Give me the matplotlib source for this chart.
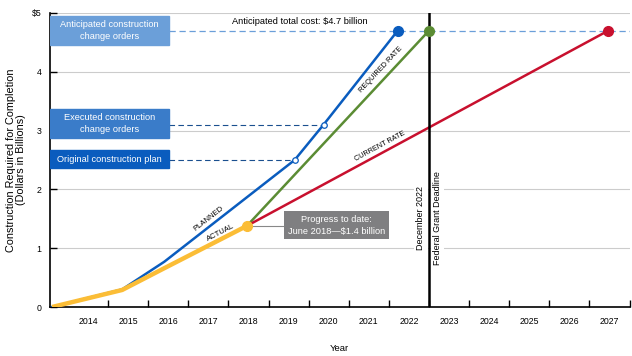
import numpy as np
import matplotlib.pyplot as plt
from matplotlib.patches import Rectangle

plt.rcParams['font.family'] = ['Liberation Sans', 'DejaVu Sans']

# data
planned_x = [2013.6, 2015.35, 2016.4, 2019.65, 2020.37, 2022.22]
planned_y = [0.0, 0.30, 0.77, 2.5, 3.1, 4.7]
actual_x = [2013.6, 2015.35, 2016.4, 2018.46]
actual_y = [0.0, 0.29, 0.66, 1.38]
required_x = [2018.46, 2023.0]
required_y = [1.38, 4.7]
current_x = [2018.46, 2027.47]
current_y = [1.38, 4.7]
years = list(range(2014, 2028))
total_cost = 4.7
executed = 3.1
original = 2.5
deadline = 2023.0

blue = '#0a5cbe'
lightblue = '#6b9fd9'
midblue = '#3a7cc9'
yellow = '#fbbd36'
green = '#5b8c34'
red = '#c8102e'


def seg_angle(xs, ys, i):
    # angle of segment i in data units, rotated to screen by matplotlib
    return np.degrees(np.arctan2(ys[i + 1] - ys[i], xs[i + 1] - xs[i]))


fig = plt.figure(figsize=(6.32, 3.56), dpi=100)
ax = fig.add_axes([0.0791, 0.1376, 0.9170, 0.8259])
ax.set_xlim(2013.55, 2028.0)
ax.set_ylim(0, 5)

for v in [1, 2, 3, 4, 5]:
    ax.axhline(v, color='#cccccc', lw=0.8, zorder=0)

ax.plot(planned_x, planned_y, color=blue, lw=1.8, zorder=4)
ax.plot(actual_x, actual_y, color=yellow, lw=3.2, zorder=5, solid_capstyle='butt')
ax.plot(required_x, required_y, color=green, lw=1.8, zorder=4)
ax.plot(current_x, current_y, color=red, lw=1.8, zorder=4)

ax.plot(planned_x[-1], planned_y[-1], 'o', color=blue, ms=7, zorder=6)
ax.plot(required_x[-1], required_y[-1], 'o', color=green, ms=7, zorder=6)
ax.plot(current_x[-1], current_y[-1], 'o', color=red, ms=7, zorder=6)
ax.plot(actual_x[-1], actual_y[-1], 'o', color=yellow, ms=7, zorder=6)
ax.plot([planned_x[3], planned_x[4]], [planned_y[3], planned_y[4]], 'o', mfc='white',
        mec=blue, ms=4, mew=0.9, zorder=6)

# label boxes at left
fs = 6.7
box_l, box_r = 2013.55, 2016.52
ax.add_patch(Rectangle((box_l, 4.456), box_r - box_l, 0.494, color=lightblue, zorder=3))
ax.text((box_l + box_r) / 2, 4.70, 'Anticipated construction\nchange orders', color='white',
        ha='center', va='center', fontsize=fs, zorder=7, linespacing=1.35)
ax.add_patch(Rectangle((box_l, 2.87), box_r - box_l, 0.50, color=midblue, zorder=3))
ax.text((box_l + box_r) / 2, 3.12, 'Executed construction\nchange orders', color='white',
        ha='center', va='center', fontsize=fs, zorder=7, linespacing=1.35)
ax.add_patch(Rectangle((box_l, 2.36), box_r - box_l, 0.31, color=blue, zorder=3))
ax.text((box_l + box_r) / 2, 2.515, 'Original construction plan', color='white',
        ha='center', va='center', fontsize=fs, zorder=7)

ax.plot([box_r, 2028.0], [total_cost, total_cost], color=lightblue, lw=0.9, ls=(0, (5, 3)), zorder=2)
ax.plot([box_r, planned_x[4]], [executed, executed], color='#1a4f8f', lw=0.8, ls=(0, (5, 3)), zorder=2)
ax.plot([box_r, planned_x[3]], [original, original], color='#1a4f8f', lw=0.8, ls=(0, (5, 3)), zorder=2)

ax.text(2019.77, 4.85, 'Anticipated total cost: $4.7 billion', ha='center', va='center', fontsize=fs)

# deadline
ax.axvline(deadline, color='black', lw=1.8, zorder=5)
ax.text(deadline - 0.2, 1.51, 'December 2022', rotation=90, ha='center', va='center', fontsize=6.5,
        bbox=dict(fc='white', ec='none', pad=1.5), zorder=3)
ax.text(deadline + 0.22, 1.51, 'Federal Grant Deadline', rotation=90, ha='center', va='center',
        fontsize=6.5, bbox=dict(fc='white', ec='none', pad=1.5), zorder=3)

# progress callout
ax.plot([actual_x[-1], 2019.8], [actual_y[-1], actual_y[-1]], color='#888888', lw=0.8, zorder=3)
ax.text(2020.69, 1.39, 'Progress to date:\nJune 2018\u2014$1.4 billion', color='white', ha='center',
        va='center', fontsize=fs, linespacing=1.35, zorder=7,
        bbox=dict(fc='#7f7f81', ec='none', boxstyle='square,pad=0.4'))

# line labels
ax.text(2017.51, 1.50, 'PLANNED', rotation=seg_angle(planned_x, planned_y, 2), transform_rotates_text=True,
        ha='center', va='center', fontsize=5.5)
ax.text(2017.81, 1.27, 'ACTUAL', rotation=seg_angle(actual_x, actual_y, 2), transform_rotates_text=True,
        ha='center', va='center', fontsize=5.5)
ax.text(2021.80, 4.04, 'REQUIRED RATE', rotation=seg_angle(required_x, required_y, 0),
        transform_rotates_text=True, ha='center', va='center', fontsize=5.3)
ax.text(2021.79, 2.74, 'CURRENT RATE', rotation=seg_angle(current_x, current_y, 0),
        transform_rotates_text=True, ha='center', va='center', fontsize=5.2)

# axes styling
for s in ['top', 'right']:
    ax.spines[s].set_visible(False)
ax.spines['left'].set_linewidth(1.2)
ax.spines['bottom'].set_linewidth(1.2)
ax.set_xticks(range(2015, 2029))
ax.set_xticklabels([])
ax.set_xticks([y + 0.5 for y in years], minor=True)
ax.set_xticklabels([str(y) for y in years], minor=True, fontsize=6.3)
ax.tick_params(axis='x', which='major', direction='in', length=5, width=1)
ax.tick_params(axis='x', which='minor', length=0, pad=7)
ax.set_yticks([0, 1, 2, 3, 4, 5])
ax.set_yticklabels(['0', '1', '2', '3', '4', '$5'], fontsize=6.3)
ax.tick_params(axis='y', direction='in', length=5, width=1, pad=6)
ax.set_xlabel('Year', fontsize=6.8, labelpad=13)
ax.set_ylabel('Construction Required for Completion\n(Dollars in Billions)', fontsize=7.8,
              labelpad=4, linespacing=1.1)

fig.savefig('out.png', dpi=100)
